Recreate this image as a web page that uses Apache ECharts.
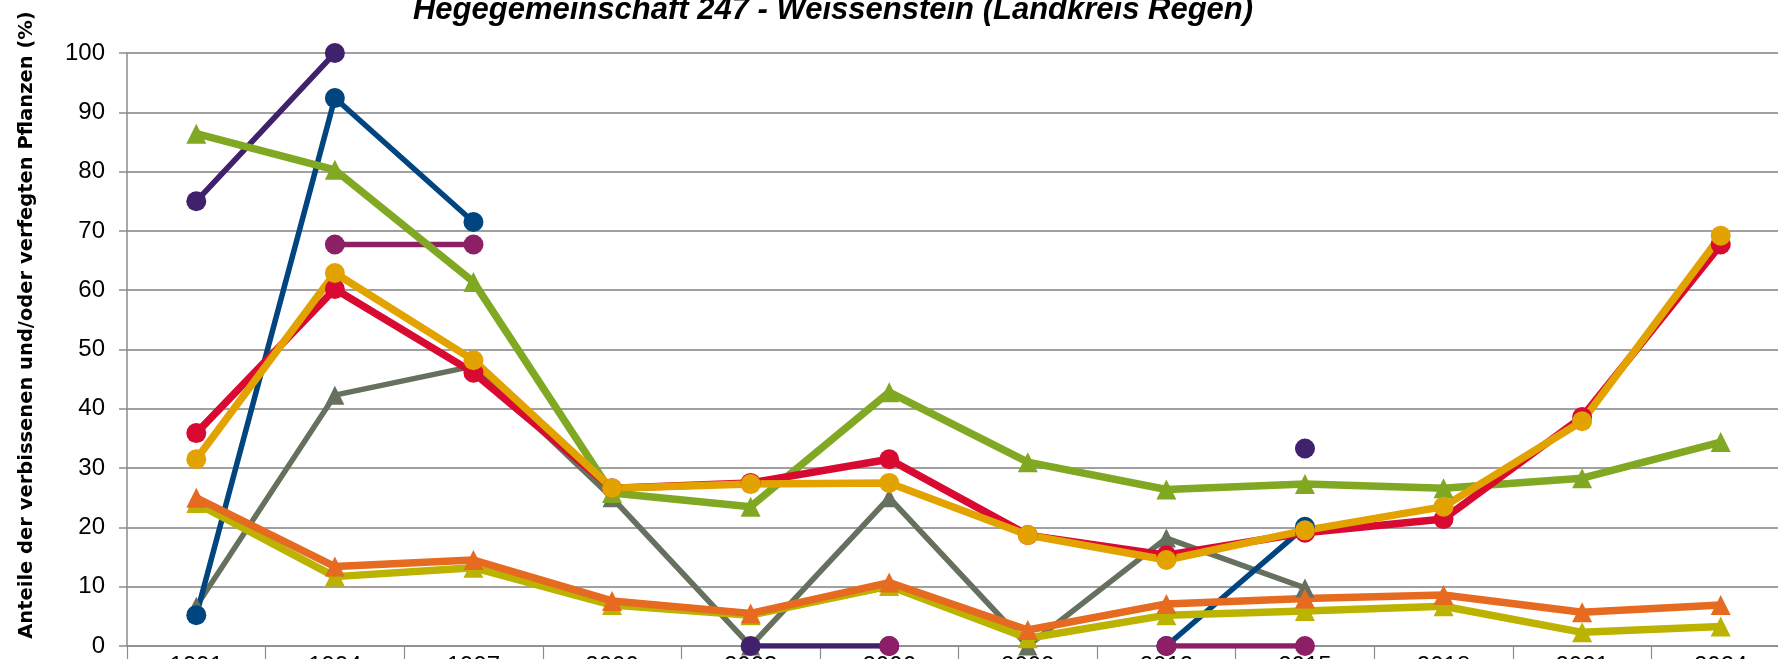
<!DOCTYPE html>
<html>
<head>
<meta charset="utf-8">
<script src="https://cdn.jsdelivr.net/npm/echarts@6/dist/echarts.min.js"></script>
<style>
html, body { margin: 0; padding: 0; background: #ffffff; }
#chart { width: 1778px; height: 659px; }
</style>
</head>
<body>
<div id="chart"></div>
<script>
// Kategorien (Aufnahmejahre)
var years = ['1991', '1994', '1997', '2000', '2003', '2006', '2009', '2012', '2015', '2018', '2021', '2024'];
var yTicks = [0, 10, 20, 30, 40, 50, 60, 70, 80, 90, 100];

// Werte in %, null = keine Aufnahme
var grauWerte    = [6.7, 42.3, 47.2, 25.0, 0, 25.0, 0, 18.2, 9.8, null, null, null];
var lilaWerte    = [75.0, 100, null, null, 0, 0, null, null, 33.3, null, null, null];
var blauWerte    = [5.2, 92.4, 71.5, null, null, null, null, 0, 20.1, null, null, null];
var magentaWerte = [null, 67.7, 67.7, null, null, 0, null, 0, 0, null, null, null];
var gruenWerte   = [86.4, 80.3, 61.4, 25.8, 23.5, 42.8, 31.0, 26.4, 27.3, 26.6, 28.3, 34.4];
var rotWerte     = [35.9, 60.2, 46.1, 26.6, 27.5, 31.5, 18.7, 15.3, 19.1, 21.4, 38.6, 67.7];
var gelbWerte    = [31.5, 62.9, 48.2, 26.6, 27.3, 27.5, 18.7, 14.5, 19.5, 23.5, 37.9, 69.2];
var olivWerte    = [24.1, 11.7, 13.2, 6.9, 5.2, 10.1, 1.3, 5.2, 5.9, 6.7, 2.3, 3.3];
var orangeWerte  = [25.0, 13.4, 14.5, 7.6, 5.5, 10.7, 2.7, 7.1, 8.0, 8.6, 5.7, 6.9];

function linie(data, color, symbol, width, size) {
	return {
		type: 'line',
		data: data,
		symbol: symbol,
		symbolSize: size,
		showAllSymbol: true,
		connectNulls: false,
		color: color,
		lineStyle: { width: width, color: color },
		itemStyle: { color: color },
		animation: false
	};
}

var chart = echarts.init(document.getElementById('chart'));
chart.setOption({
	backgroundColor: '#ffffff',
	animation: false,
	title: {
		text: 'Hegegemeinschaft 247 - Weissenstein (Landkreis Regen)',
		left: 828,
		textAlign: 'center',
		top: -10,
		textStyle: {
			fontFamily: 'Liberation Sans Narrow, Liberation Sans',
			fontSize: 31,
			fontWeight: 'bold',
			fontStyle: 'italic',
			color: '#000000'
		}
	},
	graphic: [{
		type: 'text',
		x: 27,
		y: 325,
		rotation: Math.PI / 2,
		style: {
			text: 'Anteile der verbissenen und/oder verfegten Pflanzen (%)',
			font: 'bold 19.5px "DejaVu Sans"',
			fill: '#000000',
			align: 'center',
			verticalAlign: 'middle'
		}
	}],
	grid: { left: 127, right: -12, top: 53, bottom: 13, containLabel: false, outerBoundsMode: 'none' },
	xAxis: {
		type: 'category',
		data: years,
		boundaryGap: true,
		axisLine: { show: true, lineStyle: { color: '#8c8c8c', width: 1.5 } },
		axisTick: { show: true, length: 14, lineStyle: { color: '#8c8c8c', width: 1.2 } },
		axisLabel: { margin: 8, fontSize: 24, fontFamily: 'Liberation Sans', color: '#000000' },
		splitLine: { show: false }
	},
	yAxis: {
		type: 'value',
		min: yTicks[0],
		max: yTicks[yTicks.length - 1],
		interval: 10,
		axisLine: { show: true, lineStyle: { color: '#8c8c8c', width: 1.5 } },
		axisTick: { show: true, length: 8, lineStyle: { color: '#8c8c8c', width: 1.5 } },
		axisLabel: { margin: 22, fontSize: 24, fontFamily: 'Liberation Sans', color: '#000000' },
		splitLine: { show: true, lineStyle: { color: '#a0a0a0', width: 2 } }
	},
	series: [
		linie(grauWerte, '#65705f', 'triangle', 5.5, 19),
		linie(lilaWerte, '#40216b', 'circle', 5.5, 20),
		linie(blauWerte, '#00457f', 'circle', 5.5, 20),
		linie(magentaWerte, '#8d1f67', 'circle', 5.5, 20),
		linie(gruenWerte, '#80a823', 'triangle', 7.5, 20),
		linie(rotWerte, '#d90a32', 'circle', 7.5, 20),
		linie(gelbWerte, '#e2a300', 'circle', 7.5, 20),
		linie(olivWerte, '#bbb300', 'triangle', 7.5, 20),
		linie(orangeWerte, '#e66a1f', 'triangle', 7.5, 20)
	]
});
</script>
</body>
</html>
